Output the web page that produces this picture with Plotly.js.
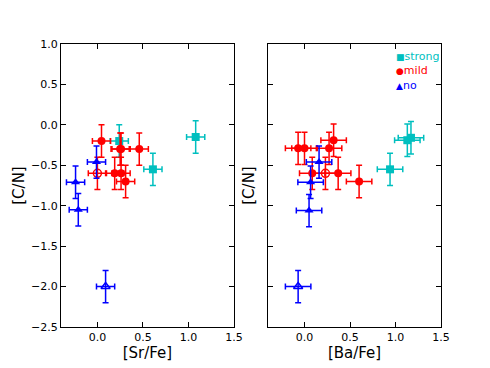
<!DOCTYPE html>
<html>
<head>
<meta charset="utf-8">
<script src="https://cdn.plot.ly/plotly-3.0.1.min.js"></script>
<style>
  body { margin: 0; background: #fff; }
  #chart { width: 490px; height: 368px; }
</style>
</head>
<body>
<div id="chart"></div>
<script>
// [C/N] against [Sr/Fe] (left) and [Ba/Fe] (right), three groups
const strongSr = [1.08, 0.24, 0.61];
const strongSrCN = [-0.15, -0.2, -0.55];
const strongBa = [1.17, 1.13, 0.94];
const strongBaCN = [-0.16, -0.19, -0.55];

const mildSr = [0.045, 0.26, 0.25, 0.46, 0.19, 0.26, 0.31];
const mildSrCN = [-0.2, -0.3, -0.3, -0.3, -0.6, -0.6, -0.7];
const mildBa = [-0.07, 0.0, 0.27, 0.32, 0.085, 0.37, 0.60];
const mildBaCN = [-0.29, -0.29, -0.29, -0.19, -0.6, -0.6, -0.7];
// open circle
const mildOpenSr = [0.0];
const mildOpenSrCN = [-0.6];
const mildOpenBa = [0.23];
const mildOpenBaCN = [-0.6];

const noSr = [-0.01, -0.24, -0.21];
const noSrCN = [-0.46, -0.71, -1.05];
const noBa = [0.16, 0.067, 0.05];
const noBaCN = [-0.46, -0.71, -1.06];
// open triangle
const noOpenSr = [0.09];
const noOpenSrCN = [-2.0];
const noOpenBa = [-0.07];
const noOpenBaCN = [-2.0];

const errSr = 0.1;
const errBa = 0.14;
const errCN = 0.2;

const yTicks = [1.0, 0.5, 0.0, -0.5, -1.0, -1.5, -2.0, -2.5];
const xTicks = [0.0, 0.5, 1.0, 1.5];

const legendNames = ['strong', 'mild', 'no'];
const legendGlyphs = ['■', '●', '▲'];

const CYAN = '#00bfbf', RED = '#ff0000', BLUE = '#0000ff';
const legendColors = [CYAN, RED, BLUE];

function pts(x, y, xerr, color, symbol, xa, ya) {
    return {
        x: x, y: y,
        xaxis: xa, yaxis: ya,
        type: 'scatter', mode: 'markers',
        showlegend: false,
        marker: { color: color, symbol: symbol, size: 8,
                  line: { color: color, width: symbol.indexOf('open') >= 0 ? 1.5 : 0 } },
        error_x: { type: 'constant', value: xerr, color: color, thickness: 1.5, width: 3 },
        error_y: { type: 'constant', value: errCN, color: color, thickness: 1.5, width: 3 }
    };
}

const traces = [
    pts(strongSr, strongSrCN, errSr, CYAN, 'square', 'x', 'y'),
    pts(mildSr, mildSrCN, errSr, RED, 'circle', 'x', 'y'),
    pts(mildOpenSr, mildOpenSrCN, errSr, RED, 'circle-open', 'x', 'y'),
    pts(noSr, noSrCN, errSr, BLUE, 'triangle-up', 'x', 'y'),
    pts(noOpenSr, noOpenSrCN, errSr, BLUE, 'triangle-up-open', 'x', 'y'),

    pts(strongBa, strongBaCN, errBa, CYAN, 'square', 'x2', 'y2'),
    pts(mildBa, mildBaCN, errBa, RED, 'circle', 'x2', 'y2'),
    pts(mildOpenBa, mildOpenBaCN, errBa, RED, 'circle-open', 'x2', 'y2'),
    pts(noBa, noBaCN, errBa, BLUE, 'triangle-up', 'x2', 'y2'),
    pts(noOpenBa, noOpenBaCN, errBa, BLUE, 'triangle-up-open', 'x2', 'y2')
];

const xBase = {
    range: [-0.4, 1.5], tickvals: xTicks, tickformat: '.1f',
    showgrid: false, zeroline: false, showline: true, linecolor: '#000', linewidth: 1,
    mirror: 'ticks', ticks: 'inside', ticklen: 5, tickcolor: '#000',
    tickfont: { size: 11, color: '#000' }
};
const yBase = {
    range: [-2.5, 1.0], tickvals: yTicks, tickformat: '.1f',
    showgrid: false, zeroline: false, showline: true, linecolor: '#000', linewidth: 1,
    mirror: 'ticks', ticks: 'inside', ticklen: 5, tickcolor: '#000',
    tickfont: { size: 11, color: '#000' }
};

// compact legend in the top right corner of the right panel, one text block
const legendText = legendNames.map((name, i) =>
    `<span style="color:${legendColors[i]}"><span style="font-size:9px">${legendGlyphs[i]}</span>${name}</span>`
).join('<br>');

const layout = {
    width: 490, height: 368,
    margin: { l: 61, r: 49, t: 44, b: 41 },
    paper_bgcolor: '#fff', plot_bgcolor: '#fff',
    font: { family: 'DejaVu Sans, sans-serif', color: '#000' },
    xaxis: Object.assign({}, xBase, { domain: [0, 0.455], anchor: 'y',
        title: { text: '[Sr/Fe]', font: { size: 15 }, standoff: 4 } }),
    yaxis: Object.assign({}, yBase, { anchor: 'x',
        title: { text: '[C/N]', font: { size: 15 }, standoff: 2 } }),
    xaxis2: Object.assign({}, xBase, { domain: [0.545, 1], anchor: 'y2',
        title: { text: '[Ba/Fe]', font: { size: 15 }, standoff: 4 } }),
    yaxis2: Object.assign({}, yBase, { anchor: 'x2', showticklabels: false,
        title: { text: '[C/N]', font: { size: 15 }, standoff: 8 } }),
    showlegend: false,
    annotations: [{
        xref: 'paper', yref: 'paper',
        x: 0.876, y: 0.985, xanchor: 'left', yanchor: 'top', align: 'left',
        text: legendText, showarrow: false,
        font: { size: 11 }
    }]
};

Plotly.newPlot('chart', traces, layout, { displayModeBar: false, staticPlot: true });
</script>
</body>
</html>
